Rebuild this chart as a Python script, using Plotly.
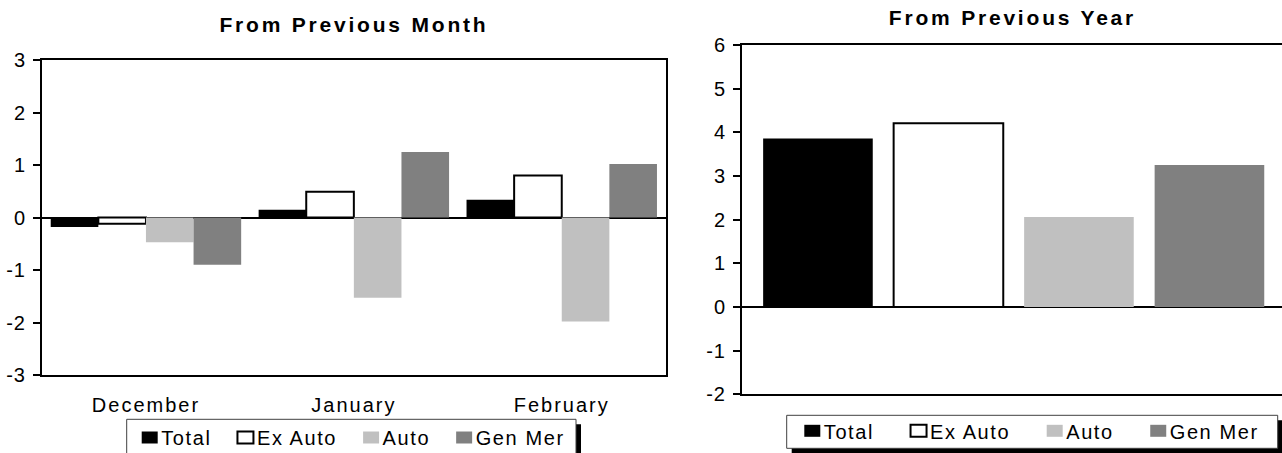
import plotly.graph_objects as go

# ---------------- data ----------------
months = ["December", "January", "February"]
series = ["Total", "Ex Auto", "Auto", "Gen Mer"]

month_total = [-0.18, 0.15, 0.34]
month_ex_auto = [-0.12, 0.49, 0.80]
month_auto = [-0.47, -1.53, -1.98]
month_gen_mer = [-0.90, 1.25, 1.02]

year_total = [3.86]
year_ex_auto = [4.21]
year_auto = [2.06]
year_gen_mer = [3.25]

month_ticks = [-3, -2, -1, 0, 1, 2, 3]
month_tick_text = ["-3", "-2", "-1", "0", "1", "2", "3"]
year_ticks = [-2, -1, 0, 1, 2, 3, 4, 5, 6]
year_tick_text = ["-2", "-1", "0", "1", "2", "3", "4", "5", "6"]

titles = ["From Previous Month", "From Previous Year"]

# ---------------- style ----------------
W, H = 1282, 453
FONT = "Liberation Sans, Arial, sans-serif"
FS = 20
fills = ["#000000", "#ffffff", "#c0c0c0", "#808080"]
outline = [0, 2, 0, 0]


def px(x):
    return x / W


def py(y):
    return 1 - y / H


fig = go.Figure()

month_series = [month_total, month_ex_auto, month_auto, month_gen_mer]
for name, vals, col, lw in zip(series, month_series, fills, outline):
    fig.add_trace(go.Bar(
        x=months, y=vals, name=name,
        marker=dict(color=col, line=dict(color="#000000", width=lw)),
        xaxis="x", yaxis="y", legend="legend",
    ))

year_series = [year_total, year_ex_auto, year_auto, year_gen_mer]
for name, vals, col, lw in zip(series, year_series, fills, outline):
    fig.add_trace(go.Bar(
        x=[name], y=vals, name=name,
        marker=dict(color=col, line=dict(color="#000000", width=lw)),
        xaxis="x2", yaxis="y2", legend="legend2",
        offsetgroup="year", width=0.84,
    ))

axis_common = dict(showgrid=False, linecolor="#000000", linewidth=2,
                   tickfont=dict(family=FONT, size=FS, color="#000000"))

fig.update_layout(
    width=W, height=H,
    margin=dict(l=0, r=0, t=0, b=0, autoexpand=False),
    paper_bgcolor="#ffffff", plot_bgcolor="#ffffff",
    font=dict(family=FONT, size=FS, color="#000000"),
    barmode="group", bargap=0.084, bargroupgap=0.0,
    xaxis=dict(domain=[px(42), px(665.7)], anchor="y", showline=True, mirror=True,
               ticks="", ticklabelstandoff=11, zeroline=False, **axis_common),
    yaxis=dict(domain=[py(375), py(60)], anchor="x", range=[-3, 3],
               tickvals=month_ticks, ticktext=month_tick_text,
               ticks="outside", ticklen=7, tickwidth=2, tickcolor="#000000",
               showline=True, mirror=True, zeroline=True, zerolinecolor="#000000",
               zerolinewidth=2, ticklabelstandoff=3, **axis_common),
    yaxis3=dict(overlaying="y", anchor="x", range=[-3, 3], tickvals=month_ticks,
                ticks="inside", ticklen=7, tickwidth=2, tickcolor="#000000",
                showticklabels=False, showline=False, showgrid=False, zeroline=False),
    xaxis2=dict(domain=[px(742), 1.0], anchor="y2", range=[-0.582, 3.556],
                showline=True, mirror=True, ticks="", showticklabels=False,
                zeroline=False, **axis_common),
    yaxis2=dict(domain=[py(394.3), py(45)], anchor="x2", range=[-2, 6],
                tickvals=year_ticks, ticktext=year_tick_text,
                ticks="outside", ticklen=7, tickwidth=2, tickcolor="#000000",
                showline=True, mirror=False, zeroline=True, zerolinecolor="#000000",
                zerolinewidth=2, ticklabelstandoff=3, **axis_common),
    yaxis4=dict(overlaying="y2", anchor="x2", range=[-2, 6], tickvals=year_ticks,
                ticks="inside", ticklen=7, tickwidth=2, tickcolor="#000000",
                showticklabels=False, showline=False, showgrid=False, zeroline=False),
    legend=dict(orientation="h", x=px(126.7), xanchor="left", y=py(437.5), yanchor="middle",
                bgcolor="rgba(0,0,0,0)", borderwidth=0,
                font=dict(family=FONT, size=FS, color="#000000"), traceorder="normal"),
    legend2=dict(orientation="h", x=px(786.7), xanchor="left", y=py(430.8), yanchor="middle",
                 bgcolor="rgba(0,0,0,0)", borderwidth=0,
                 font=dict(family=FONT, size=FS, color="#000000"), traceorder="normal"),
    showlegend=True,
)

# titles
fig.add_annotation(text=titles[0], xref="x domain", x=0.5, yref="paper", y=py(24),
                   yanchor="middle", showarrow=False,
                   font=dict(family=FONT, size=21, color="#000000", weight="bold"))
fig.add_annotation(text=titles[1], xref="x2 domain", x=0.5, yref="paper", y=py(18),
                   yanchor="middle", showarrow=False,
                   font=dict(family=FONT, size=21, color="#000000", weight="bold"))

# legend frames with drop shadows
for (x0, y0, x1, y1) in [(126.7, 419.3, 576, 470), (786.7, 415.3, 1277.7, 448.3)]:
    fig.add_shape(type="rect", xref="paper", yref="paper",
                  x0=px(x0 + 5), x1=px(x1 + 5), y0=py(y0 + 5), y1=py(y1 + 5),
                  fillcolor="#000000", line=dict(width=0))
    fig.add_shape(type="rect", xref="paper", yref="paper",
                  x0=px(x0), x1=px(x1), y0=py(y0), y1=py(y1),
                  fillcolor="#ffffff", line=dict(color="#404040", width=1))

post = """
var gd = document.getElementById('{plot_id}');
document.body.style.margin = '0';
gd.querySelectorAll('.annotation-text').forEach(function(t){ t.style.letterSpacing = '2.8px'; });
gd.querySelectorAll('.xtick text').forEach(function(t){ t.style.letterSpacing = '2px'; });
gd.querySelectorAll('.ytick text, .y2tick text').forEach(function(t){ t.style.letterSpacing = '1px'; });
var cfgs = {'legend': [3, 26], 'legend2': [5.6, 36.5]};
Object.keys(cfgs).forEach(function(key){
  try {
    var c = cfgs[key];
    var lgs = gd.getElementsByClassName(key);
    var lg = null;
    for (var i = 0; i < lgs.length; i++) { if (lgs[i].tagName.toLowerCase() === 'g') { lg = lgs[i]; break; } }
    if (!lg) return;
    lg.querySelectorAll('[clip-path]').forEach(function(e){ e.removeAttribute('clip-path'); });
    var x = c[0];
    var items = lg.querySelectorAll('g.traces');
    for (var j = 0; j < items.length; j++) {
      var it = items[j];
      var t = it.querySelector('text');
      if (!t) continue;
      t.style.letterSpacing = '1.6px';
      var tr = it.getAttribute('transform') || '';
      var m = /translate\\(\\s*([-\\d.e]+)[\\s,]+([-\\d.e]+)/.exec(tr);
      var y = m ? m[2] : 0;
      it.setAttribute('transform', 'translate(' + x + ',' + y + ')');
      t.setAttribute('x', 31.5);
      it.querySelectorAll('.legendpoints path').forEach(function(p){ p.setAttribute('d', 'M8,6H-8V-6H8Z'); });
      x += 31.5 + t.getBBox().width + c[1] - 12;
    }
  } catch (err) {}
});
"""

fig.write_html("out.html", post_script=post, config={"displayModeBar": False})
